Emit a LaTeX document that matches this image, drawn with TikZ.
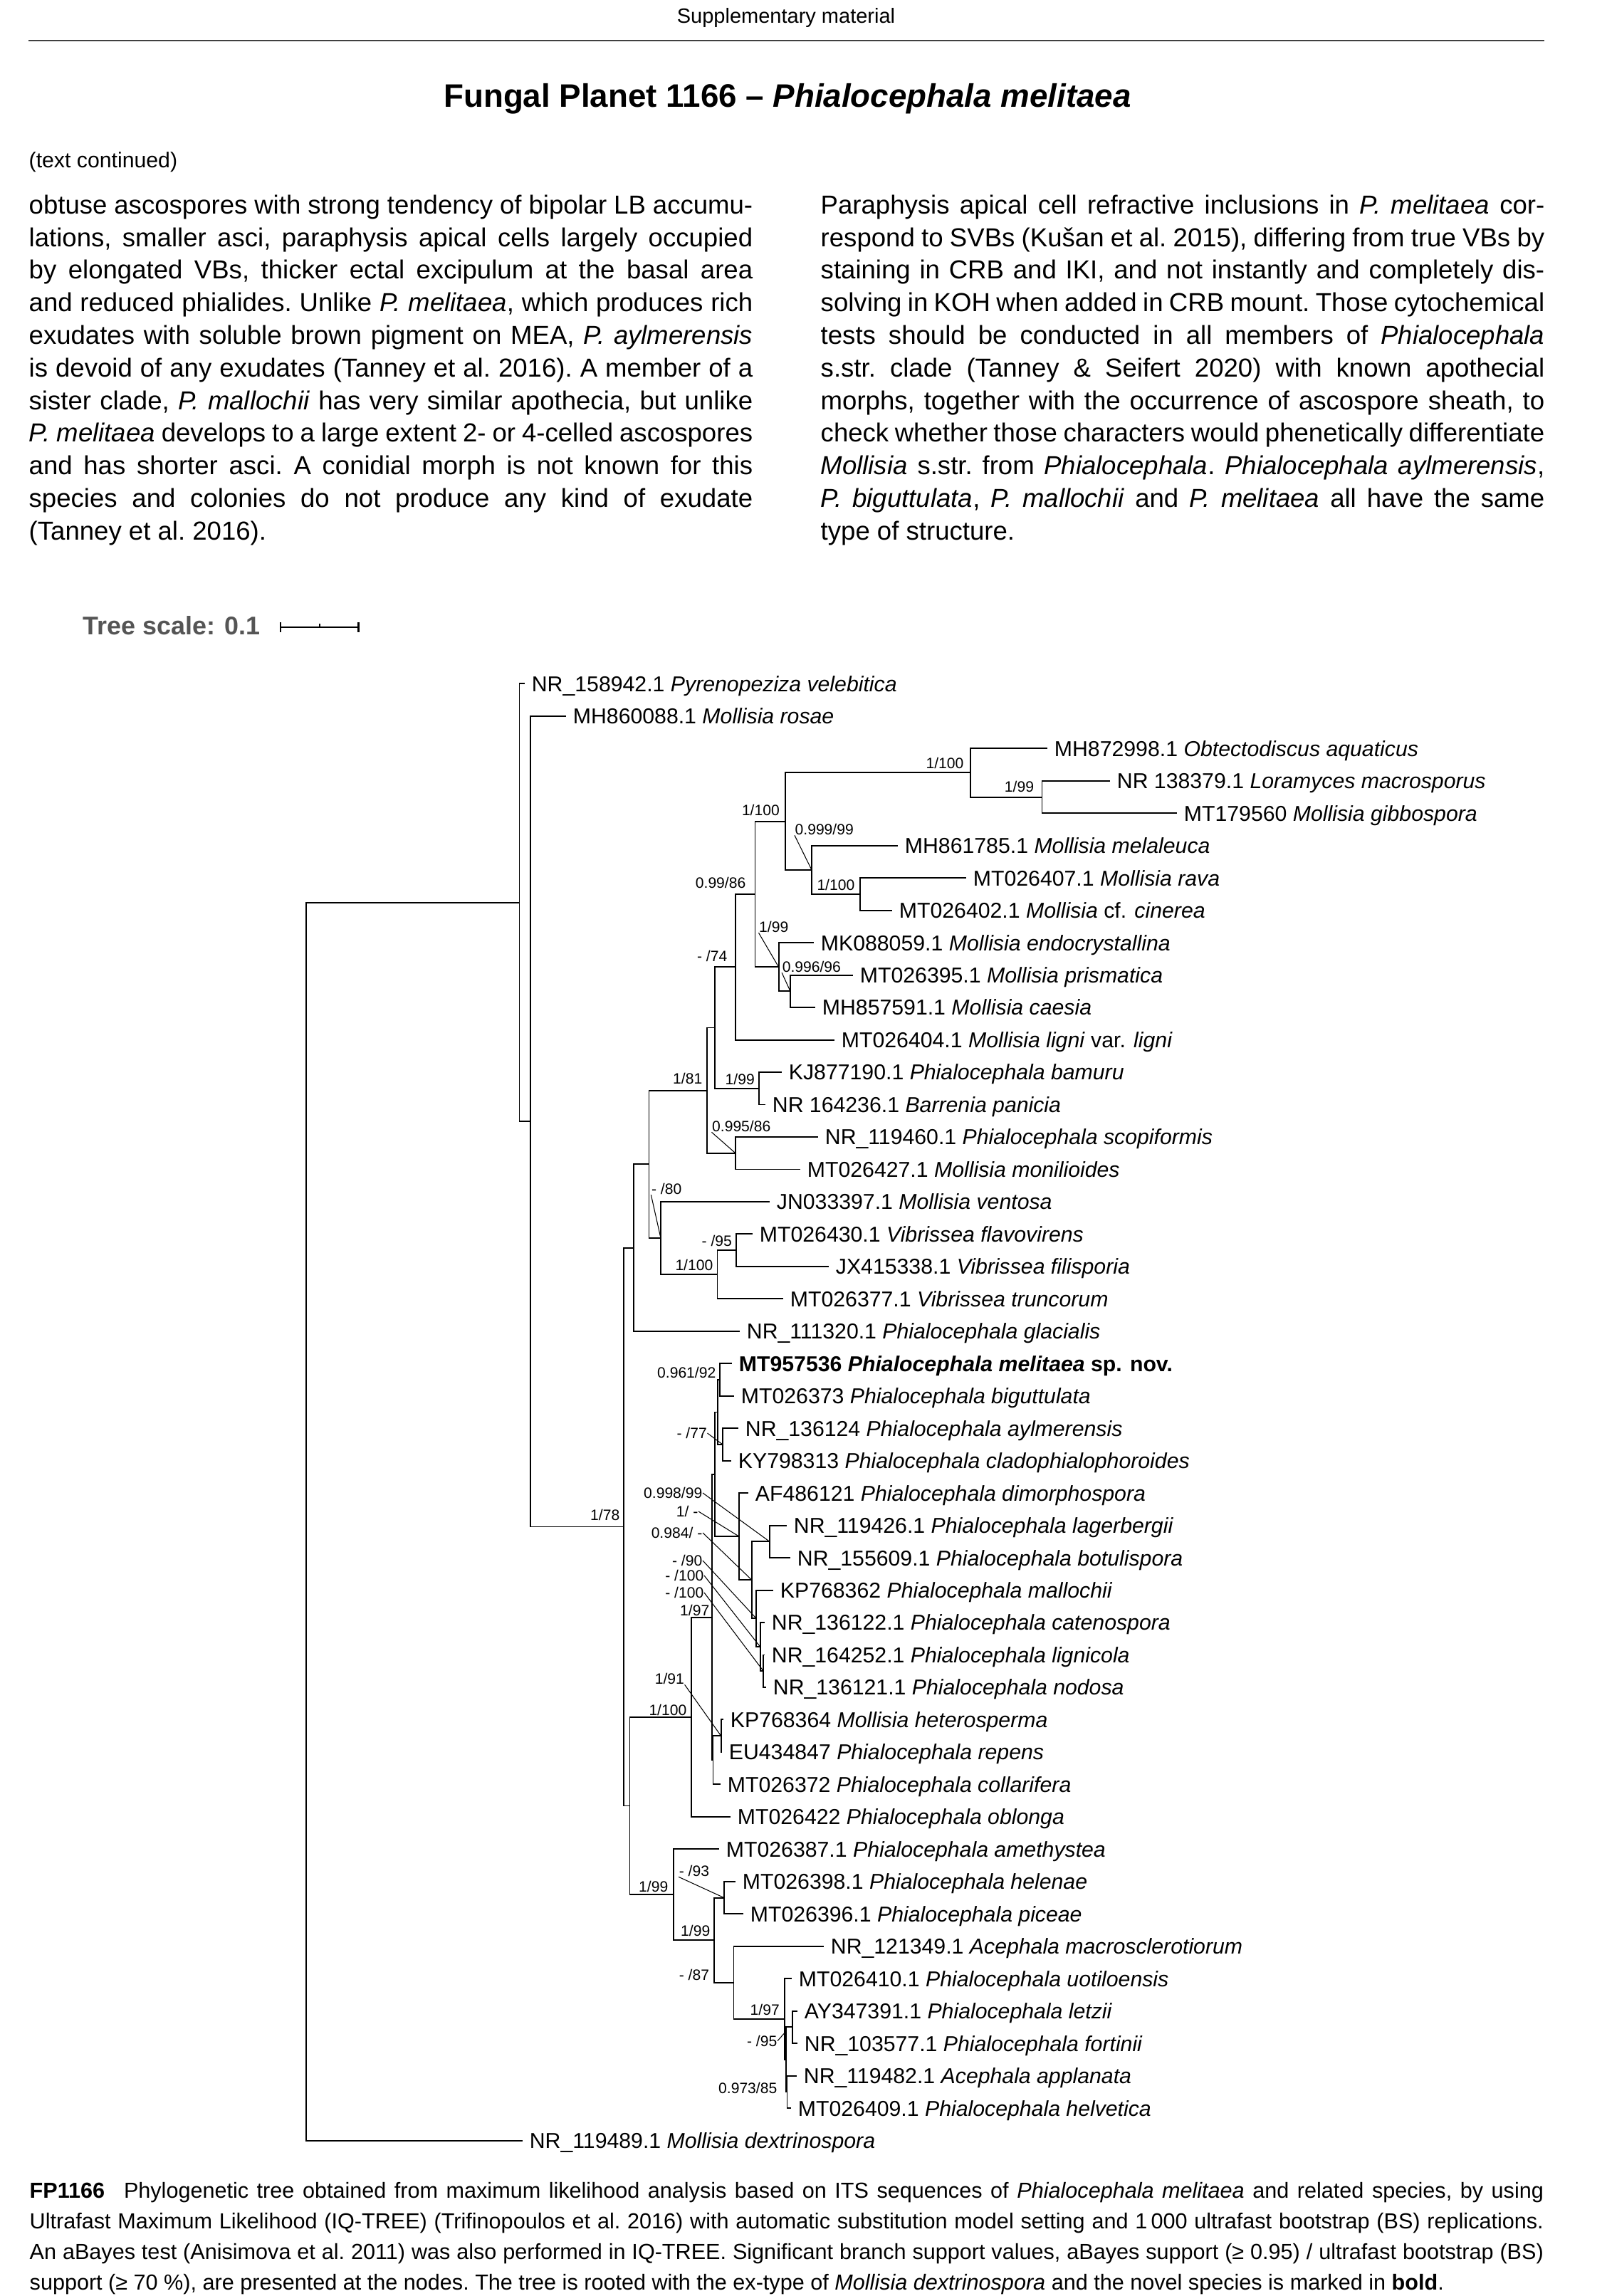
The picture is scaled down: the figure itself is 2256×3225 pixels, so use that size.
\documentclass[tikz,border=0pt]{standalone}
\usepackage{fontspec}
\setmainfont{Liberation Sans}
\definecolor{scalegray}{HTML}{555555}
\newcommand{\tipsize}{\fontsize{8.6}{10}\selectfont}
\newcommand{\supsize}{\fontsize{6}{7}\selectfont}
\newcommand{\bodysize}{\fontsize{10.4}{13.03}\selectfont\frenchspacing\hyphenpenalty=10000\exhyphenpenalty=10000\tolerance=9999}
\newcommand{\capsize}{\fontsize{8.7}{12.23}\selectfont\frenchspacing\hyphenpenalty=10000\exhyphenpenalty=10000\tolerance=9999}

\begin{document}
\begin{tikzpicture}[x=0.01cm, y=-0.01cm,
  br/.style={line width=0.55pt, line cap=rect},
  lead/.style={line width=0.3pt},
  tiplab/.style={anchor=west, inner sep=0pt, outer xsep=3.1pt, outer ysep=0pt,
    font=\tipsize, text height=7.74pt, text depth=1.55pt},
  sup/.style={anchor=east, inner sep=0pt, font=\supsize, text height=4.32pt, text depth=0pt},
  bodytext/.style={anchor=north west, inner sep=0pt, text width=10.16cm, align=justify, font=\bodysize}]
\useasboundingbox (0,0) rectangle (2256,3225);
\fill[white] (0,0) rectangle (2256,3225);

%% 머리말
\node[font=\fontsize{8.25}{10}\selectfont] (head) at (1104,25) {Supplementary material};
\draw[line width=0.8pt, black!75] (40,57) -- (2169,57);
\node[font=\fontsize{13}{15}\selectfont\bfseries] (title) at (1106,139) {Fungal Planet 1166 -- \textit{Phialocephala melitaea}};
\node[anchor=west, inner sep=0pt, font=\fontsize{8.6}{10}\selectfont] (cont) at (40,228) {(text continued)};

%% 본문 두 단
\node[bodytext] (colL) at (40,273) {obtuse ascospores with strong tendency of bipolar LB accumu-\linebreak
lations, smaller asci, paraphysis apical cells largely occupied\linebreak
by elongated VBs, thicker ectal excipulum at the basal area\linebreak
and reduced phialides. Unlike \textit{P.~melitaea}, which produces rich\linebreak
exudates with soluble brown pigment on MEA, \textit{P.~aylmerensis}\linebreak
is devoid of any exudates (Tanney et al. 2016). A member of a\linebreak
sister clade, \textit{P.~mallochii} has very similar apothecia, but unlike\linebreak
\textit{P.~melitaea} develops to a large extent 2- or 4-celled ascospores\linebreak
and has shorter asci. A conidial morph is not known for this\linebreak
species and colonies do not produce any kind of exudate\linebreak
(Tanney et al. 2016).};
\node[bodytext] (colR) at (1152,273) {Paraphysis apical cell refractive inclusions in \textit{P.~melitaea} cor-\linebreak
respond to SVBs (Kušan et al. 2015), differing from true VBs by\linebreak
staining in CRB and IKI, and not instantly and completely dis-\linebreak
solving in KOH when added in CRB mount. Those cytochemical\linebreak
tests should be conducted in all members of \textit{Phialocephala}\linebreak
s.str. clade (Tanney \& Seifert 2020) with known apothecial\linebreak
morphs, together with the occurrence of ascospore sheath, to\linebreak
check whether those characters would phenetically differentiate\linebreak
\textit{Mollisia} s.str. from \textit{Phialocephala}. \textit{Phialocephala aylmerensis},\linebreak
\textit{P.~biguttulata}, \textit{P.~mallochii} and \textit{P.~melitaea} all have the same\linebreak
type of structure.};

%% 축척
\node[anchor=east, inner sep=0pt, text=scalegray, font=\fontsize{10.2}{12}\selectfont\bfseries] (scale) at (366,879) {Tree scale: 0.1};
\draw[line width=0.7pt] (394,881) -- (503.7,881);
\draw[line width=0.7pt] (394,874) -- (394,888) (503.7,874) -- (503.7,888) (449,881) -- (449,876);

%% 잎 이름
\node[tiplab] (t1) at (736,960.4) {NR\_158942.1 \textit{Pyrenopeziza velebitica}};
\node[tiplab] (t2) at (794,1005.9) {MH860088.1 \textit{Mollisia rosae}};
\node[tiplab] (t3) at (1470,1051.3) {MH872998.1 \textit{Obtectodiscus aquaticus}};
\node[tiplab] (t4) at (1558,1096.8) {NR 138379.1 \textit{Loramyces macrosporus}};
\node[tiplab] (t5) at (1652,1142.3) {MT179560 \textit{Mollisia gibbospora}};
\node[tiplab] (t6) at (1260,1187.8) {MH861785.1 \textit{Mollisia melaleuca}};
\node[tiplab] (t7) at (1356,1233.2) {MT026407.1 \textit{Mollisia rava}};
\node[tiplab] (t8) at (1252,1278.7) {MT026402.1 \textit{Mollisia} cf. \textit{cinerea}};
\node[tiplab] (t9) at (1142,1324.2) {MK088059.1 \textit{Mollisia endocrystallina}};
\node[tiplab] (t10) at (1197,1369.6) {MT026395.1 \textit{Mollisia prismatica}};
\node[tiplab] (t11) at (1144,1415.1) {MH857591.1 \textit{Mollisia caesia}};
\node[tiplab] (t12) at (1171,1460.6) {MT026404.1 \textit{Mollisia ligni} var. \textit{ligni}};
\node[tiplab] (t13) at (1097,1506.0) {KJ877190.1 \textit{Phialocephala bamuru}};
\node[tiplab] (t14) at (1074,1551.5) {NR 164236.1 \textit{Barrenia panicia}};
\node[tiplab] (t15) at (1148,1597.0) {NR\_119460.1 \textit{Phialocephala scopiformis}};
\node[tiplab] (t16) at (1123,1642.5) {MT026427.1 \textit{Mollisia monilioides}};
\node[tiplab] (t17) at (1080,1687.9) {JN033397.1 \textit{Mollisia ventosa}};
\node[tiplab] (t18) at (1056,1733.4) {MT026430.1 \textit{Vibrissea flavovirens}};
\node[tiplab] (t19) at (1163,1778.9) {JX415338.1 \textit{Vibrissea filisporia}};
\node[tiplab] (t20) at (1099,1824.3) {MT026377.1 \textit{Vibrissea truncorum}};
\node[tiplab] (t21) at (1038,1869.8) {NR\_111320.1 \textit{Phialocephala glacialis}};
\node[tiplab] (t22) at (1027,1915.3) {\bfseries MT957536 \textit{Phialocephala melitaea} sp. nov.};
\node[tiplab] (t23) at (1030,1960.7) {MT026373 \textit{Phialocephala biguttulata}};
\node[tiplab] (t24) at (1036,2006.2) {NR\_136124 \textit{Phialocephala aylmerensis}};
\node[tiplab] (t25) at (1026,2051.7) {KY798313 \textit{Phialocephala cladophialophoroides}};
\node[tiplab] (t26) at (1050,2097.2) {AF486121 \textit{Phialocephala dimorphospora}};
\node[tiplab] (t27) at (1104,2142.6) {NR\_119426.1 \textit{Phialocephala lagerbergii}};
\node[tiplab] (t28) at (1109,2188.1) {NR\_155609.1 \textit{Phialocephala botulispora}};
\node[tiplab] (t29) at (1085,2233.6) {KP768362 \textit{Phialocephala mallochii}};
\node[tiplab] (t30) at (1073,2279.0) {NR\_136122.1 \textit{Phialocephala catenospora}};
\node[tiplab] (t31) at (1073,2324.5) {NR\_164252.1 \textit{Phialocephala lignicola}};
\node[tiplab] (t32) at (1075,2370.0) {NR\_136121.1 \textit{Phialocephala nodosa}};
\node[tiplab] (t33) at (1015,2415.4) {KP768364 \textit{Mollisia heterosperma}};
\node[tiplab] (t34) at (1013,2460.9) {EU434847 \textit{Phialocephala repens}};
\node[tiplab] (t35) at (1011,2506.4) {MT026372 \textit{Phialocephala collarifera}};
\node[tiplab] (t36) at (1025,2551.9) {MT026422 \textit{Phialocephala oblonga}};
\node[tiplab] (t37) at (1009,2597.3) {MT026387.1 \textit{Phialocephala amethystea}};
\node[tiplab] (t38) at (1032,2642.8) {MT026398.1 \textit{Phialocephala helenae}};
\node[tiplab] (t39) at (1043,2688.3) {MT026396.1 \textit{Phialocephala piceae}};
\node[tiplab] (t40) at (1156,2733.7) {NR\_121349.1 \textit{Acephala macrosclerotiorum}};
\node[tiplab] (t41) at (1111,2779.2) {MT026410.1 \textit{Phialocephala uotiloensis}};
\node[tiplab] (t42) at (1119,2824.7) {AY347391.1 \textit{Phialocephala letzii}};
\node[tiplab] (t43) at (1119,2870.1) {NR\_103577.1 \textit{Phialocephala fortinii}};
\node[tiplab] (t44) at (1118,2915.6) {NR\_119482.1 \textit{Acephala applanata}};
\node[tiplab] (t45) at (1110,2961.1) {MT026409.1 \textit{Phialocephala helvetica}};
\node[tiplab] (t46) at (733,3006.6) {NR\_119489.1 \textit{Mollisia dextrinospora}};

%% 안쪽 마디
\coordinate (nRoot) at (430,2137.2);
\coordinate (nA) at (729.5,1267.8);
\coordinate (nB) at (745,1575.2);
\coordinate (nC) at (876,2144.5);
\coordinate (nD) at (890,1752.6);
\coordinate (nF) at (911.5,1635.3);
\coordinate (nG) at (993,1531.6);
\coordinate (nK) at (1003.7,1443.5);
\coordinate (nN) at (1033,1358.3);
\coordinate (nO) at (1060.5,1256);
\coordinate (nR) at (1103,1153.6);
\coordinate (nP) at (1363,1085.4);
\coordinate (nQ) at (1463.5,1119.6);
\coordinate (nS) at (1140,1221.9);
\coordinate (nT) at (1208.4,1256);
\coordinate (nU) at (1093.6,1358.3);
\coordinate (nV) at (1110,1392.4);
\coordinate (nM) at (1065.6,1528.8);
\coordinate (nL) at (1033,1619.8);
\coordinate (nH) at (928,1739.1);
\coordinate (nI) at (1007.5,1790.2);
\coordinate (nJ) at (1034.3,1756.2);
\coordinate (nE) at (884.5,2536.5);
\coordinate (nZ8) at (971,2411.8);
\coordinate (nZ0) at (1000,2271.6);
\coordinate (nX1) at (1004.3,2070.9);
\coordinate (nX) at (1007.7,1983.5);
\coordinate (nW) at (1011,1938);
\coordinate (nY) at (1015,2029);
\coordinate (nZ2) at (1038.3,2158.3);
\coordinate (nZ3) at (1056,2219.4);
\coordinate (nZ1) at (1081,2165.4);
\coordinate (nZ4) at (1062.3,2273.4);
\coordinate (nZ5) at (1067.7,2313.1);
\coordinate (nZ6) at (1072.3,2347.3);
\coordinate (nZ9) at (1001.5,2472.3);
\coordinate (nZ7) at (1012.6,2438.2);
\coordinate (nAA) at (946,2661.3);
\coordinate (nAB) at (1003,2725.2);
\coordinate (nAC) at (1017,2665.6);
\coordinate (nAD) at (1030.5,2784.9);
\coordinate (nAE) at (1102.3,2836.1);
\coordinate (nAH) at (1104,2892.9);
\coordinate (nAF) at (1113,2847.4);
\coordinate (nAG) at (1105.5,2938.4);
\coordinate (kAF) at (1104,2853);

%% 가지
\draw[br] (nRoot) |- (nA) (nRoot) |- (t46);
\draw[br] (nA) |- (t1) (nA) |- (nB);
\draw[br] (nB) |- (t2) (nB) |- (nC);
\draw[br] (nC) |- (nD) (nC) |- (nE);
\draw[br] (nD) |- (nF) (nD) |- (t21);
\draw[br] (nF) |- (nG) (nF) |- (nH);
\draw[br] (nG) |- (nK) (nG) |- (nL);
\draw[br] (nK) |- (nN) (nK) |- (nM);
\draw[br] (nN) |- (nO) (nN) |- (t12);
\draw[br] (nO) |- (nR) (nO) |- (nU);
\draw[br] (nR) |- (nP) (nR) |- (nS);
\draw[br] (nP) |- (t3) (nP) |- (nQ);
\draw[br] (nQ) |- (t4) (nQ) |- (t5);
\draw[br] (nS) |- (t6) (nS) |- (nT);
\draw[br] (nT) |- (t7) (nT) |- (t8);
\draw[br] (nU) |- (t9) (nU) |- (nV);
\draw[br] (nV) |- (t10) (nV) |- (t11);
\draw[br] (nM) |- (t13) (nM) |- (t14);
\draw[br] (nL) |- (t15) (nL) |- (t16);
\draw[br] (nH) |- (t17) (nH) |- (nI);
\draw[br] (nI) |- (nJ) (nI) |- (t20);
\draw[br] (nJ) |- (t18) (nJ) |- (t19);
%% 아래쪽 무리
\draw[br] (nE) |- (nZ8) (nE) |- (nAA);
\draw[br] (nZ8) |- (nZ0) (nZ8) |- (t36);
\draw[br] (nZ0) |- (nX1) (nZ0) |- (nZ9);
\draw[br] (nX1) |- (nX) (nX1) |- (nZ2);
\draw[br] (nX) |- (nW) (nX) |- (nY);
\draw[br] (nW) |- (t22) (nW) |- (t23);
\draw[br] (nY) |- (t24) (nY) |- (t25);
\draw[br] (nZ2) |- (t26) (nZ2) |- (nZ3);
\draw[br] (nZ3) |- (nZ1) (nZ3) |- (nZ4);
\draw[br] (nZ1) |- (t27) (nZ1) |- (t28);
\draw[br] (nZ4) |- (t29) (nZ4) |- (nZ5);
\draw[br] (nZ5) |- (t30) (nZ5) |- (nZ6);
\draw[br] (nZ6) |- (t31) (nZ6) |- (t32);
\draw[br] (nZ9) |- (nZ7) (nZ9) |- (t35);
\draw[br] (nZ7) |- (t33) (nZ7) |- (t34);
\draw[br] (nAA) |- (t37) (nAA) |- (nAB);
\draw[br] (nAB) |- (nAC) (nAB) |- (nAD);
\draw[br] (nAC) |- (t38) (nAC) |- (t39);
\draw[br] (nAD) |- (t40) (nAD) |- (nAE);
\draw[br] (nAE) |- (t41) (nAE) |- (nAH);
\draw[br] (nAH) |- (nAF) (nAH) |- (nAG);
\draw[br] (nAF) |- (t42) (nAF) |- (t43);
\draw[br] (nAG) |- (t44) (nAG) |- (t45);

%% 지지도
\node[sup] (sP) at (1354,1072) {1/100};
\node[sup] (sQ) at (1452.7,1105) {1/99};
\node[sup] (sR) at (1095.5,1138) {1/100};
\node[sup] (sS) at (1199.5,1165) {0.999/99};
\node[sup] (sT) at (1201,1243) {1/100};
\node[sup] (sO) at (1048,1240) {0.99/86};
\node[sup] (sN) at (1022,1343) {- /74};
\node[sup] (sU) at (1108,1302) {1/99};
\node[sup] (sV) at (1181.6,1358) {0.996/96};
\node[sup] (sM) at (1060.5,1516) {1/99};
\node[sup] (sG) at (987,1515) {1/81};
\node[sup] (sL) at (1083,1582) {0.995/86};
\node[sup] (sH) at (958,1670) {- /80};
\node[sup] (sI) at (1002,1777) {1/100};
\node[sup] (sJ) at (1028.6,1743) {- /95};
\node[sup] (sC) at (871,2128) {1/78};
\node[sup] (sW) at (1006,1928) {0.961/92};
\node[sup] (sY) at (993.5,2013) {- /77};
\node[sup] (sZ1) at (987,2097) {0.998/99};
\node[sup] (sZ2) at (981,2123) {1/ -};
\node[sup] (sZ3) at (987,2153) {0.984/ -};
\node[sup] (sZ4) at (987,2192) {- /90};
\node[sup] (sZ5) at (989,2213) {- /100};
\node[sup] (sZ6) at (989,2237) {- /100};
\node[sup] (sZ0) at (997,2262) {1/97};
\node[sup] (sZ7) at (961.6,2358) {1/91};
\node[sup] (sZ8) at (965,2402) {1/100};
\node[sup] (sAA) at (939,2650) {1/99};
\node[sup] (sAC) at (996.7,2628) {- /93};
\node[sup] (sAB) at (998,2711.7) {1/99};
\node[sup] (sAD) at (996.7,2774) {- /87};
\node[sup] (sAE) at (1095.5,2823) {1/97};
\node[sup] (sAF) at (1092,2866.7) {- /95};
\node[sup] (sAG) at (1092,2933.3) {0.973/85};
%% 가는 지시선
\draw[lead] (sS.south west) -- (nS);
\draw[lead] (sU.south west) -- (nU);
\draw[lead] (sV.south west) -- (nV);
\draw[lead] (sL.south west) -- (nL);
\draw[lead] (sH.south west) -- (nH);
\draw[lead] (sY.east) -- (nY);
\draw[lead] (sZ1.east) -- (nZ1);
\draw[lead] (sZ2.east) -- (nZ2);
\draw[lead] (sZ3.east) -- (nZ3);
\draw[lead] (sZ4.east) -- (nZ4);
\draw[lead] (sZ5.east) -- (nZ5);
\draw[lead] (sZ6.east) -- (nZ6);
\draw[lead] (sZ7.south east) -- (nZ7);
\draw[lead] (sAC.south west) -- (nAC);
\draw[lead] (sAF.east) -- (kAF);

%% 그림 설명
\node[anchor=north west, inner sep=0pt, text width=21.25cm, align=justify, font=\capsize] (caption) at (41,3065) {\textbf{FP1166}\hspace{0.5em} Phylogenetic tree obtained from maximum likelihood analysis based on ITS sequences of \textit{Phialocephala melitaea} and related species, by using\linebreak
Ultrafast Maximum Likelihood (IQ-TREE) (Trifinopoulos et al. 2016) with automatic substitution model setting and 1\,000 ultrafast bootstrap (BS) replications.\linebreak
An aBayes test (Anisimova et al. 2011) was also performed in IQ-TREE. Significant branch support values, aBayes support (≥ 0.95) / ultrafast bootstrap (BS)\linebreak
support (≥ 70~\%), are presented at the nodes. The tree is rooted with the ex-type of \textit{Mollisia dextrinospora} and the novel species is marked in \textbf{bold}.};
\end{tikzpicture}
\end{document}
